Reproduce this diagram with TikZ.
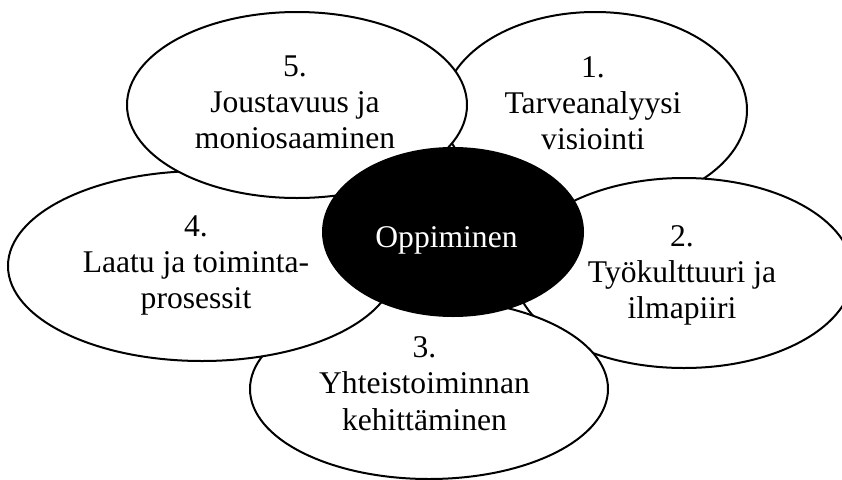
\documentclass[tikz,border=0pt]{standalone}
\usepackage{fontspec}
\setmainfont{Liberation Serif}
\usetikzlibrary{shapes.geometric}
\begin{document}
\begin{tikzpicture}[x=1pt,y=-1pt,
  petal/.style={draw=black, fill=white, line width=2pt, ellipse, inner sep=0pt, outer sep=0pt},
  core/.style={fill=black, ellipse, inner sep=0pt, outer sep=0pt},
  txt/.style={anchor=base, inner sep=0pt, font=\fontsize{31.6}{36.4}\selectfont},
  coretxt/.style={txt, text=white},
]
\useasboundingbox (0,0) rectangle (842,479);
\clip (0,0) rectangle (842,479);

% petals, back to front
\node[petal, minimum width=304pt, minimum height=196pt] (e1) at (595,110) {};
\node[petal, minimum width=338pt, minimum height=190pt] (e2) at (684,273) {};
\node[petal, minimum width=358pt, minimum height=180pt] (e3) at (429,389) {};
\node[petal, minimum width=388pt, minimum height=190pt] (e4) at (202,266) {};
\node[petal, minimum width=340pt, minimum height=186pt] (e5) at (297,105) {};

% centre
\node[core, minimum width=262pt, minimum height=170pt] (c) at (453,232) {};
\node[coretxt] (tc) at (446.5,247) {Oppiminen};

% 1
\node[txt] (t1a) at (593,77) {1.};
\node[txt] (t1b) at (593,113) {Tarveanalyysi};
\node[txt] (t1c) at (593,149) {visiointi};

% 2
\node[txt] (t2a) at (682,246) {2.};
\node[txt] (t2b) at (682,282) {Työkulttuuri ja};
\node[txt] (t2c) at (682,318) {ilmapiiri};

% 3
\node[txt] (t3a) at (424.5,357) {3.};
\node[txt] (t3b) at (424.5,393) {Yhteistoiminnan};
\node[txt] (t3c) at (424.5,430) {kehittäminen};

% 4
\node[txt] (t4a) at (196,236) {4.};
\node[txt] (t4b) at (196,272) {Laatu ja toiminta-};
\node[txt] (t4c) at (196,308) {prosessit};

% 5
\node[txt] (t5a) at (295,76) {5.};
\node[txt] (t5b) at (295,112) {Joustavuus ja};
\node[txt] (t5c) at (295,148) {moniosaaminen};
\end{tikzpicture}
\end{document}
